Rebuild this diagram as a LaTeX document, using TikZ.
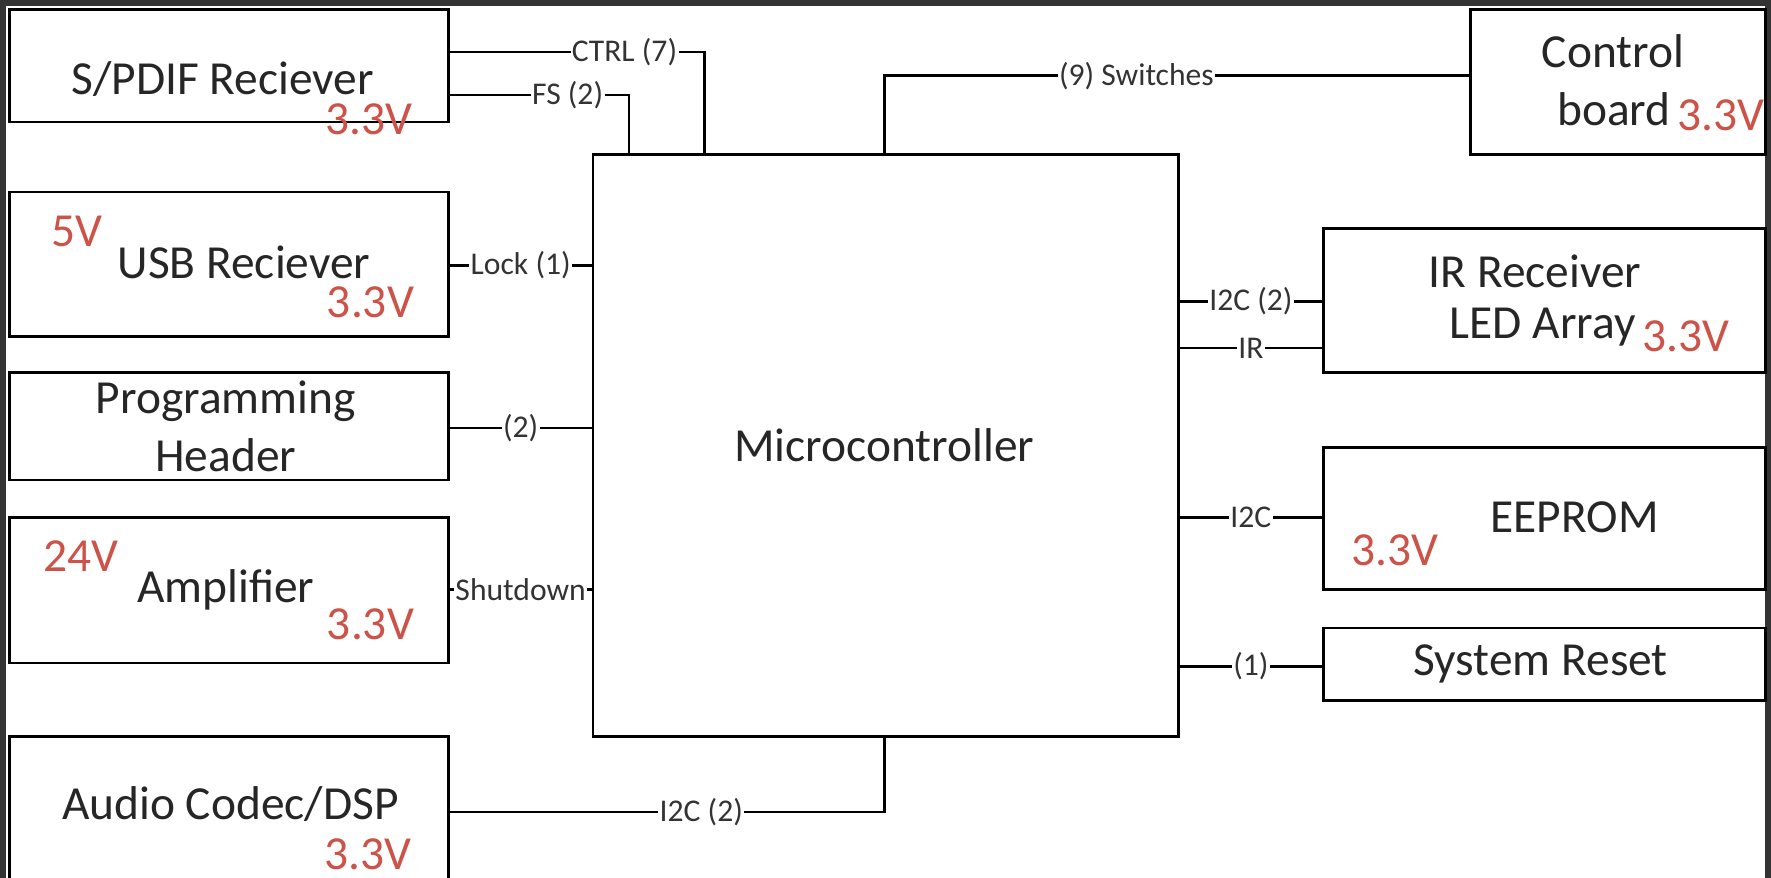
\documentclass[tikz,border=0pt]{standalone}
\usepackage{fontspec}
\setmainfont{Carlito}
\definecolor{volt}{RGB}{205,82,72}
\definecolor{frame}{RGB}{52,52,52}
\begin{document}
\begin{tikzpicture}[x=0.5pt,y=-0.5pt,
  box/.style={draw=black,line width=1.3pt,rectangle,inner sep=0pt,outer sep=0pt},
  txt/.style={font=\fontsize{21}{25}\selectfont,text=black!85,inner sep=0pt},
  vlt/.style={font=\fontsize{21}{25}\selectfont,text=volt,inner sep=0pt},
  lbl/.style={font=\fontsize{14}{16}\selectfont,text=black!80,fill=white,inner sep=0.6pt},
  wire/.style={line width=1.2pt}]
\useasboundingbox (0,0) rectangle (1568,777);
\clip (0,0) rectangle (1568,777);
\fill[frame] (0,0) rectangle (1568,777);
\fill[white] (5,5) rectangle (1563,800);
% boxes
\node[box,minimum width=194.5pt,minimum height=50pt] (spdif) at (202.5,58) {};
\node[box,minimum width=194.5pt,minimum height=64pt] (usb) at (202.5,234) {};
\node[box,minimum width=194.5pt,minimum height=47.5pt] (prog) at (202.5,377.5) {};
\node[box,minimum width=194.5pt,minimum height=64.5pt] (amp) at (202.5,522.5) {};
\node[box,minimum width=194.5pt,minimum height=74pt] (audio) at (202.5,726) {};
\node[box,minimum width=259pt,minimum height=257.5pt] (mcu) at (784,394.5) {};
\node[box,minimum width=130.5pt,minimum height=64.5pt] (ctrl) at (1432.5,72.5) {};
\node[box,minimum width=195.5pt,minimum height=64pt] (ir) at (1367.5,266) {};
\node[box,minimum width=195.5pt,minimum height=63pt] (eeprom) at (1367.5,459) {};
\node[box,minimum width=195.5pt,minimum height=32pt] (reset) at (1367.5,588) {};
% texts
\node[txt] (tspdif) at (197,70) {S/PDIF Reciever};
\node[vlt] (vspdif) at (327,106) {3.3V};
\node[vlt] (v5usb) at (68,205) {5V};
\node[txt] (tusb) at (216,232) {USB Reciever};
\node[vlt] (vusb) at (328,268) {3.3V};
\node[txt] (tprog1) at (200,355) {Programming};
\node[txt] (tprog2) at (200,403) {Header};
\node[vlt] (v24amp) at (72,492) {24V};
\node[txt] (tamp) at (200,522) {Amplifier};
\node[vlt] (vamp) at (328,553) {3.3V};
\node[txt] (taudio) at (204,712) {Audio Codec/DSP};
\node[vlt] (vaudio) at (326,756) {3.3V};
\node[txt] (tmcu) at (783,394) {Microcontroller};
\node[txt] (tctrl1) at (1428,45) {Control};
\node[txt] (tctrl2) at (1429,97) {board};
\node[vlt] (vctrl) at (1524,102) {3.3V};
\node[txt] (tir1) at (1359,240) {IR Receiver};
\node[txt] (tir2) at (1366,290) {LED Array};
\node[vlt] (vir) at (1493,298) {3.3V};
\node[txt] (teep) at (1394,458) {EEPROM};
\node[vlt] (veep) at (1235,487) {3.3V};
\node[txt] (treset) at (1364,588) {System Reset};
% helper coordinates
\coordinate (x624) at (624,0);
\coordinate (x557) at (557,0);
\coordinate (x783) at (783,0);
\coordinate (y46) at (0,46);
\coordinate (y84) at (0,84);
\coordinate (y67) at (0,67);
\coordinate (y719) at (0,719);
\coordinate (y235) at (0,235);
\coordinate (y379) at (0,379);
\coordinate (y522) at (0,522);
\coordinate (y267) at (0,267);
\coordinate (y308) at (0,308);
\coordinate (y458) at (0,458);
\coordinate (y590) at (0,590);
% wires
\draw[wire] (spdif.east |- y46) -- node[lbl,pos=0.687]{CTRL (7)} (x624 |- y46) -- (x624 |- mcu.north);
\draw[wire] (spdif.east |- y84) -- node[lbl,pos=0.66]{FS (2)} (x557 |- y84) -- (x557 |- mcu.north);
\draw[wire] (x783 |- mcu.north) -- (x783 |- y67) -- node[lbl,pos=0.43]{(9) Switches} (ctrl.west |- y67);
\draw[wire] (usb.east |- y235) -- node[lbl]{Lock (1)} (mcu.west |- y235);
\draw[wire] (prog.east |- y379) -- node[lbl]{(2)} (mcu.west |- y379);
\draw[wire] (amp.east |- y522) -- node[lbl]{Shutdown} (mcu.west |- y522);
\draw[wire] (audio.east |- y719) -- node[lbl,pos=0.58]{I2C (2)} (x783 |- y719) -- (x783 |- mcu.south);
\draw[wire] (mcu.east |- y267) -- node[lbl]{I2C (2)} (ir.west |- y267);
\draw[wire] (mcu.east |- y308) -- node[lbl]{IR} (ir.west |- y308);
\draw[wire] (mcu.east |- y458) -- node[lbl]{I2C} (eeprom.west |- y458);
\draw[wire] (mcu.east |- y590) -- node[lbl]{(1)} (reset.west |- y590);
\end{tikzpicture}
\end{document}
